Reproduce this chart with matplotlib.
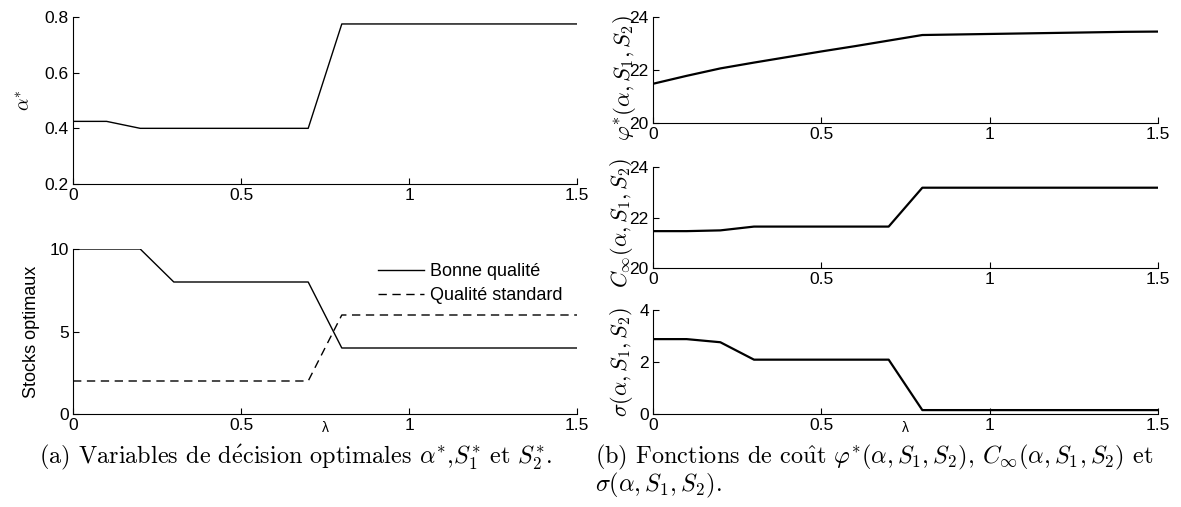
import numpy as np
import matplotlib
matplotlib.use('Agg')
import matplotlib.pyplot as plt

plt.rcParams['font.family'] = ['Liberation Sans', 'DejaVu Sans']
plt.rcParams['mathtext.fontset'] = 'cm'

# Data
lam_x = np.array([0.0, 0.1, 0.2, 0.3, 0.4, 0.5, 0.6, 0.7, 0.8, 0.9, 1.0, 1.1, 1.2, 1.3, 1.4, 1.5])
alpha_opt = [0.425, 0.425, 0.40, 0.40, 0.40, 0.40, 0.40, 0.40, 0.775, 0.775, 0.775, 0.775, 0.775, 0.775, 0.775, 0.775]
s1_opt = [10, 10, 10, 8, 8, 8, 8, 8, 4, 4, 4, 4, 4, 4, 4, 4]
s2_opt = [2, 2, 2, 2, 2, 2, 2, 2, 6, 6, 6, 6, 6, 6, 6, 6]
phi_cost = [21.48, 21.78, 22.06, 22.28, 22.49, 22.70, 22.90, 23.11, 23.32, 23.34, 23.36, 23.38, 23.40, 23.42, 23.44, 23.45]
c_inf = [21.46, 21.46, 21.49, 21.64, 21.64, 21.64, 21.64, 21.64, 23.18, 23.18, 23.18, 23.18, 23.18, 23.18, 23.18, 23.18]
sigma = [2.88, 2.88, 2.76, 2.09, 2.09, 2.09, 2.09, 2.09, 0.15, 0.15, 0.15, 0.15, 0.15, 0.15, 0.15, 0.15]
lam_val = 0.75
xticks = [0, 0.5, 1, 1.5]
xticklabels = ['0', '0.5', '1', '1.5']

W, H = 1181, 507
fig = plt.figure(figsize=(W / 100, H / 100), dpi=100)


def add_ax(x0, y0, x1, y1):
    # pixel box (top-left origin) -> figure fraction
    return fig.add_axes([x0 / W, 1 - y1 / H, (x1 - x0) / W, (y1 - y0) / H])


def style(ax, ylim, yticks, lam=False):
    ax.set_xlim(0, 1.5)
    ax.set_ylim(*ylim)
    ax.set_xticks(xticks, xticklabels)
    ax.set_yticks(yticks)
    for s in ['top', 'right']:
        ax.spines[s].set_visible(False)
    for s in ['left', 'bottom']:
        ax.spines[s].set_linewidth(0.8)
    ax.tick_params(direction='in', length=4, width=0.8, labelsize=12.5, pad=3)
    if lam:
        ax.set_xticks([lam_val], ['λ'], minor=True)
        ax.tick_params(which='minor', length=0, labelsize=10, pad=5)


# (a) left panels
ax1 = add_ax(73, 17, 577, 184)
ax1.plot(lam_x, alpha_opt, color='k', lw=1.0)
style(ax1, (0.2, 0.8), [0.2, 0.4, 0.6, 0.8])
ax1.set_ylabel(r'$\alpha^{*}$', fontsize=14)
ax1.yaxis.set_label_coords(-0.078, 0.5)

ax2 = add_ax(73, 249, 577, 414)
ax2.plot(lam_x, s1_opt, color='k', lw=1.0, label='Bonne qualité')
ax2.plot(lam_x, s2_opt, color='k', lw=1.0, ls=(0, (6, 4)), label='Qualité standard')
style(ax2, (0, 10), [0, 5, 10], lam=True)
ax2.set_ylabel('Stocks optimaux', fontsize=13)
ax2.yaxis.set_label_coords(-0.066, 0.5)
ax2.legend(loc='upper right', frameon=False, fontsize=13, handlelength=2.55,
           handletextpad=0.3, labelspacing=0.4, borderaxespad=0,
           bbox_to_anchor=(0.985, 0.96))

# (b) right panels
ax3 = add_ax(653, 17, 1158, 123)
ax3.plot(lam_x, phi_cost, color='k', lw=1.6)
style(ax3, (20, 24), [20, 22, 24])
ax3.set_ylabel(r'$\varphi^{*}(\alpha, S_1, S_2)$', fontsize=16.5)
ax3.yaxis.set_label_coords(-0.03, 0.42)

ax4 = add_ax(653, 167, 1158, 268)
ax4.plot(lam_x, c_inf, color='k', lw=1.6)
style(ax4, (20, 24), [20, 22, 24])
ax4.set_ylabel(r'$C_{\infty}(\alpha, S_1, S_2)$', fontsize=16)
ax4.yaxis.set_label_coords(-0.036, 0.45)

ax5 = add_ax(653, 310, 1158, 414)
ax5.plot(lam_x, sigma, color='k', lw=1.6)
style(ax5, (0, 4), [0, 2, 4], lam=True)
ax5.set_ylabel(r'$\sigma(\alpha, S_1, S_2)$', fontsize=16)
ax5.yaxis.set_label_coords(-0.036, 0.5)

cap_font = ['cmr10', 'DejaVu Serif']
cap_size = 17.5
fig.text(296 / W, 1 - 457 / H,
         r'(a) Variables de d$\acute{\mathrm{e}}$cision optimales $\alpha^{*}$,$S_1^{*}$ et $S_2^{*}$.',
         ha='center', va='center', fontsize=cap_size, family=cap_font)
fig.text(595 / W, 1 - 457 / H,
         r'(b) Fonctions de co$\hat{\mathrm{u}}$t $\varphi^{*}(\alpha, S_1, S_2)$, $C_{\infty}(\alpha, S_1, S_2)$ et',
         ha='left', va='center', fontsize=cap_size, family=cap_font)
fig.text(595 / W, 1 - 485 / H, r'$\sigma(\alpha, S_1, S_2)$.',
         ha='left', va='center', fontsize=cap_size, family=cap_font)

fig.savefig('out.png', dpi=100)
